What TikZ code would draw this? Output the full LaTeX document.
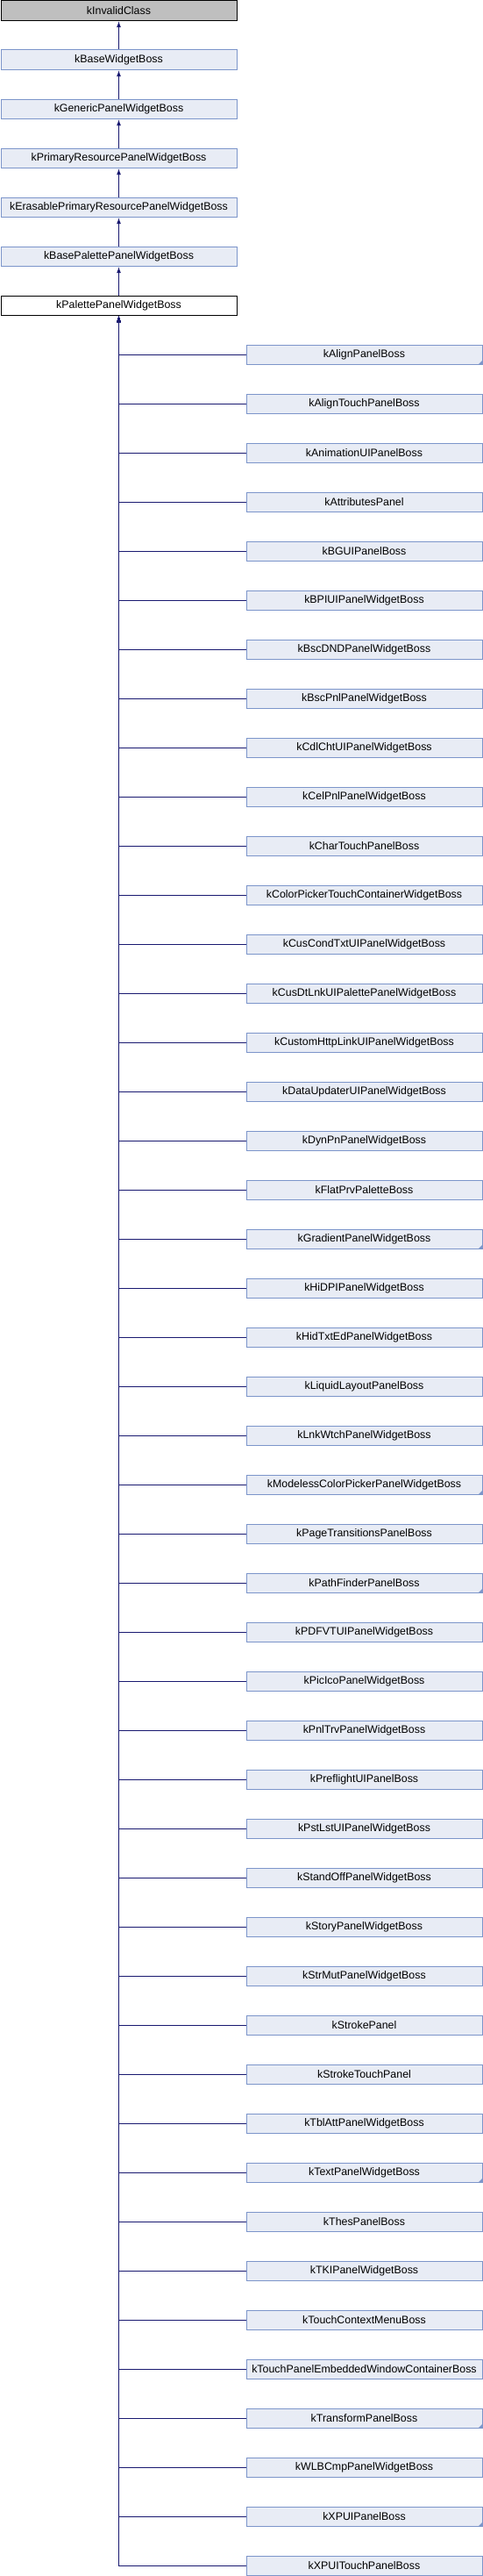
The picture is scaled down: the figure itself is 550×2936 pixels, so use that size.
\documentclass[tikz,border=0pt]{standalone}
\usepackage{fontspec}
\setmainfont{Liberation Sans}
\usetikzlibrary{arrows.meta,positioning}
\definecolor{boxfill}{HTML}{E8ECF5}
\definecolor{boxline}{HTML}{7C95CA}
\definecolor{edgecol}{HTML}{191970}
\definecolor{greyfill}{HTML}{BFBFBF}
\tikzset{
  cls/.style={draw=boxline, fill=boxfill, line width=1pt, minimum width=269pt, minimum height=22.7pt, inner sep=0pt, anchor=north west, font=\fontsize{12.4}{14}\selectfont},
  undoc/.style={cls, draw=black, fill=greyfill},
  current/.style={cls, draw=black, fill=white},
  edgeline/.style={draw=edgecol, line width=1pt, {Latex[length=7pt,width=5pt]}-},
  corner/.style={fill=boxline}
}
\newcommand{\markcorner}[1]{\fill[corner] ([xshift=-5pt,yshift=0.5pt]#1.south east) -- ([xshift=-0.5pt,yshift=0.5pt]#1.south east) -- ([xshift=-0.5pt,yshift=5pt]#1.south east) -- cycle;}
\begin{document}
\begin{tikzpicture}[x=1pt,y=-1pt]
\useasboundingbox (0,0) rectangle (550,2936);
\node[undoc] (p0) at (0.5,0.5) {kInvalidClass};
\node[cls] (p1) at (0.5,56.5) {kBaseWidgetBoss};
\node[cls] (p2) at (0.5,112.5) {kGenericPanelWidgetBoss};
\node[cls] (p3) at (0.5,168.5) {kPrimaryResourcePanelWidgetBoss};
\node[cls] (p4) at (0.5,224.5) {kErasablePrimaryResourcePanelWidgetBoss};
\node[cls] (p5) at (0.5,280.5) {kBasePalettePanelWidgetBoss};
\node[current] (pp) at (0.5,336.5) {kPalettePanelWidgetBoss};
\draw[edgeline] (p0.south) -- (p1.north);
\draw[edgeline] (p1.south) -- (p2.north);
\draw[edgeline] (p2.south) -- (p3.north);
\draw[edgeline] (p3.south) -- (p4.north);
\draw[edgeline] (p4.south) -- (p5.north);
\draw[edgeline] (p5.south) -- (pp.north);
\foreach \name [count=\i] in {kAlignPanelBoss,kAlignTouchPanelBoss,kAnimationUIPanelBoss,kAttributesPanel,kBGUIPanelBoss,kBPIUIPanelWidgetBoss,kBscDNDPanelWidgetBoss,kBscPnlPanelWidgetBoss,kCdlChtUIPanelWidgetBoss,kCelPnlPanelWidgetBoss,kCharTouchPanelBoss,kColorPickerTouchContainerWidgetBoss,kCusCondTxtUIPanelWidgetBoss,kCusDtLnkUIPalettePanelWidgetBoss,kCustomHttpLinkUIPanelWidgetBoss,kDataUpdaterUIPanelWidgetBoss,kDynPnPanelWidgetBoss,kFlatPrvPaletteBoss,kGradientPanelWidgetBoss,kHiDPIPanelWidgetBoss,kHidTxtEdPanelWidgetBoss,kLiquidLayoutPanelBoss,kLnkWtchPanelWidgetBoss,kModelessColorPickerPanelWidgetBoss,kPageTransitionsPanelBoss,kPathFinderPanelBoss,kPDFVTUIPanelWidgetBoss,kPicIcoPanelWidgetBoss,kPnlTrvPanelWidgetBoss,kPreflightUIPanelBoss,kPstLstUIPanelWidgetBoss,kStandOffPanelWidgetBoss,kStoryPanelWidgetBoss,kStrMutPanelWidgetBoss,kStrokePanel,kStrokeTouchPanel,kTblAttPanelWidgetBoss,kTextPanelWidgetBoss,kThesPanelBoss,kTKIPanelWidgetBoss,kTouchContextMenuBoss,kTouchPanelEmbeddedWindowContainerBoss,kTransformPanelBoss,kWLBCmpPanelWidgetBoss,kXPUIPanelBoss,kXPUITouchPanelBoss}{
  \node[cls] (c\i) at (280.5,{392.5+56*(\i-1)}) {\name};
  \draw[edgeline] (pp.south) |- (c\i.west);
}
\foreach \k in {1,19,24,26,38,43,45}{\markcorner{c\k}}
\end{tikzpicture}
\end{document}
